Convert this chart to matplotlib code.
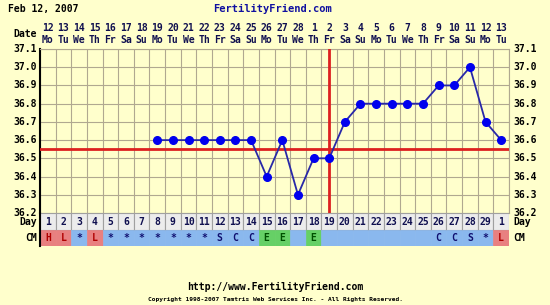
import numpy as np
import matplotlib
matplotlib.use('Agg')
import matplotlib.pyplot as plt
from matplotlib.patches import Rectangle

# chart data
cycle_days = list(range(1, 31))
day_labels = [str(d) for d in range(1, 30)] + ['1']
date_labels = [str(d) for d in range(12, 29)] + [str(d) for d in range(1, 14)]
weekday_labels = (['Mo', 'Tu', 'We', 'Th', 'Fr', 'Sa', 'Su'] * 5)[:30]
temps = [np.nan] * 7 + [36.6, 36.6, 36.6, 36.6, 36.6, 36.6, 36.6, 36.4, 36.6, 36.3,
                        36.5, 36.5, 36.7, 36.8, 36.8, 36.8, 36.8, 36.8, 36.9, 36.9,
                        37.0, 36.7, 36.6]
cm_codes = ['H', 'L', '*', 'L', '*', '*', '*', '*', '*', '*', '*', 'S', 'C', 'C', 'E',
            'E', '', 'E', '', '', '', '', '', '', '', 'C', 'C', 'S', '*', 'L']
y_ticks = [36.2, 36.3, 36.4, 36.5, 36.6, 36.7, 36.8, 36.9, 37.0, 37.1]
coverline = 36.55
ovulation_day = 19

W, H = 550, 305
bg = '#ffffcc'
gridc = '#b0a890'
mono = 'DejaVu Sans Mono'

fig = plt.figure(figsize=(W / 100, H / 100), dpi=100, facecolor=bg)

def px_axes(x0, y0, x1, y1):
    return fig.add_axes([x0 / W, 1 - y1 / H, (x1 - x0) / W, (y1 - y0) / H])

# main temperature plot
ax = px_axes(40, 49, 509, 213)
ax.set_facecolor(bg)
ax.set_xlim(0.5, 30.5)
ax.set_ylim(36.2, 37.1)
for d in np.arange(0.5, 31, 1):
    ax.axvline(d, color=gridc, lw=0.8, zorder=1)
for t in y_ticks:
    ax.axhline(t, color=gridc, lw=0.8, zorder=1)
ax.set_xticks([])
ax.set_yticks([])
for s in ax.spines.values():
    s.set_color(gridc)
    s.set_linewidth(0.8)
ax.spines['left'].set_color('black')
ax.spines['left'].set_linewidth(1.5)

ax.axhline(coverline, color='#dd2020', lw=2, zorder=3)
ax.axvline(ovulation_day, color='#dd2020', lw=2, zorder=3)
ax.plot(cycle_days, temps, color='#2828a8', lw=1.3, zorder=4)
ax.plot(cycle_days, temps, 'o', color='#0000ee', ms=5.5, zorder=5)

for t in y_ticks:
    ax.text(0.3, t, '%.1f' % t, ha='right', va='center', fontsize=7,
            family=mono, fontweight='bold')
    ax.text(30.75, t, '%.1f' % t, ha='left', va='center', fontsize=7,
            family=mono, fontweight='bold')

# date header
for d, dt, wd in zip(cycle_days, date_labels, weekday_labels):
    ax.text(d, 37.1 + 0.117, dt, ha='center', va='center', fontsize=7,
            family=mono, fontweight='bold', color='#101050')
    ax.text(d, 37.1 + 0.052, wd, ha='center', va='center', fontsize=7,
            family=mono, fontweight='bold', color='#101050')
ax.text(0.3, 37.1 + 0.085, 'Date', ha='right', va='center', fontsize=7,
        family=mono, fontweight='bold')

# day and CM rows
tab = px_axes(40, 213, 509, 246)
tab.set_xlim(0.5, 30.5)
tab.set_ylim(0, 2.1)
tab.invert_yaxis()
tab.axis('off')
for d, lab, cm in zip(cycle_days, day_labels, cm_codes):
    tab.add_patch(Rectangle((d - 0.5, 0), 1, 1.1, facecolor='#ececec',
                            edgecolor='#a0a0a0', lw=0.8))
    tab.text(d, 0.6, lab, ha='center', va='center', fontsize=7, family=mono,
             fontweight='bold', color='#101050')
    if cm in ('H', 'L'):
        fc, tc = '#e88080', '#b00000'
    elif cm == 'E':
        fc, tc = '#66d066', '#005000'
    else:
        fc, tc = '#8ab8ee', '#101070'
    tab.add_patch(Rectangle((d - 0.5, 1.1), 1, 1.0, facecolor=fc,
                            edgecolor=fc, lw=0.5))
    tab.text(d, 1.62, cm, ha='center', va='center', fontsize=7, family=mono,
             fontweight='bold', color=tc)
tab.plot([0.5, 0.5], [0, 2.1], color='black', lw=1.5, clip_on=False)
for txt, y in (('Day', 0.6), ('CM', 1.62)):
    tab.text(0.3, y, txt, ha='right', va='center', fontsize=7, family=mono,
             fontweight='bold')
    tab.text(30.75, y, txt, ha='left', va='center', fontsize=7, family=mono,
             fontweight='bold')

# titles and footer
fig.text(8 / W, 1 - 9 / H, 'Feb 12, 2007', ha='left', va='center', fontsize=7,
         family=mono, fontweight='bold')
fig.text(273 / W, 1 - 9 / H, 'FertilityFriend.com', ha='center', va='center',
         fontsize=7.5, family=mono, fontweight='bold', color='#1010a0')
fig.text(275 / W, 1 - 287 / H, 'http://www.FertilityFriend.com', ha='center',
         va='center', fontsize=7, family=mono, fontweight='bold')
fig.text(275 / W, 1 - 299 / H,
         'Copyright 1998-2007 Tamtris Web Services Inc. - All Rights Reserved.',
         ha='center', va='center', fontsize=4.5, family=mono, fontweight='bold')

fig.savefig('out.png', dpi=100, facecolor=bg)
